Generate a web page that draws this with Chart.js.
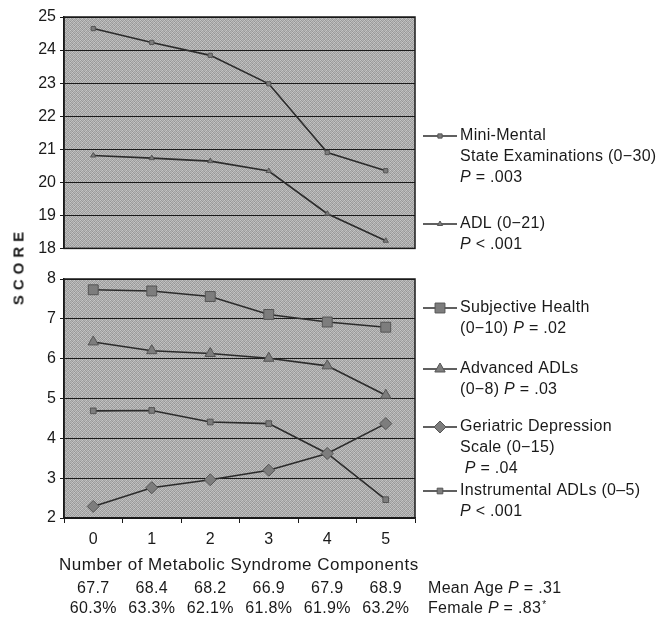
<!DOCTYPE html>
<html>
<head>
<meta charset="utf-8">
<script src="https://cdn.jsdelivr.net/npm/chart.js@4.4.1/dist/chart.umd.min.js"></script>
<style>
  body { margin: 0; background: #fff; }
  #wrap { position: relative; width: 659px; height: 621px; overflow: hidden; }
  #wrap canvas { position: absolute; left: 0; }
  #score {
    position: absolute; left: 18px; top: 266px;
    transform: translate(-50%, -50%) rotate(-90deg);
    font: bold 15px "Liberation Sans", Arial, sans-serif;
    letter-spacing: 5px; color: #1a1a1a; white-space: nowrap;
  }
</style>
</head>
<body>
<div id="wrap">
  <canvas id="topChart" style="top:0" width="659" height="262"></canvas>
  <canvas id="bottomChart" style="top:262px" width="659" height="359"></canvas>
  <div id="score">SCORE</div>
</div>
<script>
const categories = ['0', '1', '2', '3', '4', '5'];

// upper panel
const mmse = [24.65, 24.23, 23.84, 22.98, 20.9, 20.35];
const adl = [20.81, 20.73, 20.64, 20.34, 19.05, 18.23];

// lower panel
const subjectiveHealth = [7.73, 7.7, 7.56, 7.11, 6.92, 6.79];
const advancedAdl = [6.42, 6.2, 6.13, 6.01, 5.82, 5.08];
const depression = [2.29, 2.76, 2.96, 3.2, 3.62, 4.37];
const instrumentalAdl = [4.69, 4.7, 4.41, 4.37, 3.62, 2.46];

const meanAge = ['67.7', '68.4', '68.2', '66.9', '67.9', '68.9'];
const femalePct = ['60.3%', '63.3%', '62.1%', '61.8%', '61.9%', '63.2%'];

const topLegend = [
  ['Mini-Mental', 'State Examinations (0\u221230)', 'P = .003'],
  ['ADL (0\u221221)', 'P < .001']
];
const bottomLegend = [
  ['Subjective Health', '(0\u221210) P = .02'],
  ['Advanced ADLs', '(0\u22128) P = .03'],
  ['Geriatric Depression', 'Scale (0\u221215)', ' P = .04'],
  ['Instrumental ADLs (0\u20135)', 'P < .001']
];

const FONT = '"Liberation Sans", Arial, sans-serif';
const INK = '#1a1a1a';
const LINE = '#2b2b2b';
const MARK = '#7d7d7d';

// grainy grey fill like the scanned panel background
function panelFill(ctx) {
  const c = document.createElement('canvas');
  c.width = 4; c.height = 4;
  const g = c.getContext('2d');
  const shades = ['#c4c4c4', '#999', '#b8b8b8', '#a4a4a4',
                  '#a0a0a0', '#bcbcbc', '#959595', '#c0c0c0',
                  '#b4b4b4', '#a8a8a8', '#c6c6c6', '#9c9c9c',
                  '#979797', '#c2c2c2', '#a2a2a2', '#b6b6b6'];
  shades.forEach((s, i) => { g.fillStyle = s; g.fillRect(i % 4, Math.floor(i / 4), 1, 1); });
  return ctx.createPattern(c, 'repeat');
}

// draws text, with every standalone "P" in italics
function drawRich(ctx, text, x, y, size, spacing) {
  const parts = text.split(/(\bP\b)/);
  ctx.letterSpacing = spacing + 'px';
  parts.forEach(p => {
    if (!p) return;
    ctx.font = (p === 'P' ? 'italic ' : '') + size + 'px ' + FONT;
    ctx.fillText(p, x, y);
    x += ctx.measureText(p).width;
  });
  ctx.letterSpacing = '0px';
  return x;
}

function drawLegend(ctx, chart, entries, yStarts) {
  ctx.save();
  ctx.textBaseline = 'middle';
  ctx.textAlign = 'left';
  entries.forEach((lines, i) => {
    const ds = chart.data.datasets[i];
    const y0 = yStarts[i];
    ctx.strokeStyle = LINE;
    ctx.lineWidth = 1.5;
    ctx.beginPath();
    ctx.moveTo(423, y0);
    ctx.lineTo(457, y0);
    ctx.stroke();
    ctx.fillStyle = MARK;
    ctx.strokeStyle = '#555';
    ctx.lineWidth = 1;
    Chart.helpers.drawPoint(ctx, {
      pointStyle: ds.pointStyle, radius: ds.pointRadius, rotation: 0, borderWidth: 1
    }, 440, y0);
    ctx.fillStyle = INK;
    lines.forEach((ln, j) => drawRich(ctx, ln, 460, y0 + j * 21, 16, 0.3));
  });
  ctx.restore();
}

const panelPlugin = {
  id: 'panel',
  beforeDraw(chart) {
    const { ctx, chartArea: a } = chart;
    ctx.save();
    ctx.fillStyle = panelFill(ctx);
    ctx.fillRect(a.left, a.top, a.right - a.left, a.bottom - a.top);
    ctx.restore();
  },
  afterDraw(chart) {
    const { ctx, chartArea: a } = chart;
    ctx.save();
    ctx.strokeStyle = INK;
    ctx.lineWidth = 1.5;
    ctx.strokeRect(a.left, a.top, a.right - a.left, a.bottom - a.top);
    ctx.restore();
  }
};

function series(label, data, style, r) {
  return {
    label, data,
    borderColor: LINE, borderWidth: 1.6,
    pointStyle: style, pointRadius: r, pointHoverRadius: r,
    pointBackgroundColor: MARK, pointBorderColor: '#555', pointBorderWidth: 1,
    tension: 0
  };
}

function yAxis(min, max) {
  return {
    min, max,
    afterFit: s => { s.width = 64; },
    ticks: { stepSize: 1, color: INK, font: { family: FONT, size: 16 }, padding: 4 },
    grid: { color: INK, lineWidth: 1, tickLength: 4 },
    border: { display: true, color: INK, width: 1.5 }
  };
}

const baseOptions = {
  responsive: false,
  animation: false,
  events: [],
  plugins: { legend: { display: false }, tooltip: { enabled: false } }
};

new Chart(document.getElementById('topChart'), {
  type: 'line',
  data: {
    labels: categories,
    datasets: [
      series('Mini-Mental State Examinations (0-30)', mmse, 'rect', 3),
      series('ADL (0-21)', adl, 'triangle', 3)
    ]
  },
  options: {
    ...baseOptions,
    layout: { padding: { left: 0, right: 244, top: 17, bottom: 6 } },
    scales: {
      x: { display: false, offset: true },
      y: yAxis(18, 25)
    }
  },
  plugins: [panelPlugin, {
    id: 'topLegend',
    afterDraw(chart) { drawLegend(chart.ctx, chart, topLegend, [136, 224]); }
  }]
});

new Chart(document.getElementById('bottomChart'), {
  type: 'line',
  data: {
    labels: categories,
    datasets: [
      series('Subjective Health', subjectiveHealth, 'rect', 7),
      series('Advanced ADLs', advancedAdl, 'triangle', 6),
      series('Geriatric Depression Scale', depression, 'rectRot', 6),
      series('Instrumental ADLs', instrumentalAdl, 'rect', 4)
    ]
  },
  options: {
    ...baseOptions,
    layout: { padding: { left: 0, right: 244, top: 17, bottom: 73 } },
    scales: {
      x: {
        offset: true,
        afterFit: s => { s.height = 30; },
        ticks: { color: INK, font: { family: FONT, size: 16 }, padding: 7 },
        grid: { offset: true, drawOnChartArea: false, color: INK, tickLength: 5 },
        border: { display: true, color: INK, width: 1.5 }
      },
      y: yAxis(2, 8)
    }
  },
  plugins: [panelPlugin, {
    id: 'bottomText',
    afterDraw(chart) {
      const ctx = chart.ctx;
      const x = chart.scales.x;
      drawLegend(ctx, chart, bottomLegend, [308 - 262, 369 - 262, 427 - 262, 491 - 262]);
      ctx.save();
      ctx.fillStyle = INK;
      ctx.textBaseline = 'middle';
      ctx.textAlign = 'left';
      ctx.font = '17px ' + FONT;
      ctx.letterSpacing = '0.5px';
      ctx.fillText('Number of Metabolic Syndrome Components', 59, 565 - 262);
      ctx.letterSpacing = '0.3px';
      ctx.textAlign = 'center';
      ctx.font = '16px ' + FONT;
      categories.forEach((c, i) => {
        const px = x.getPixelForValue(i);
        ctx.fillText(meanAge[i], px, 589 - 262);
        ctx.fillText(femalePct[i], px, 609 - 262);
      });
      ctx.textAlign = 'left';
      drawRich(ctx, 'Mean Age P = .31', 428, 589 - 262, 16, 0.3);
      const end = drawRich(ctx, 'Female P = .83', 428, 609 - 262, 16, 0.3);
      ctx.font = '10px ' + FONT;
      ctx.fillText('*', end + 1, 609 - 262 - 4);
      ctx.restore();
    }
  }]
});
</script>
</body>
</html>
